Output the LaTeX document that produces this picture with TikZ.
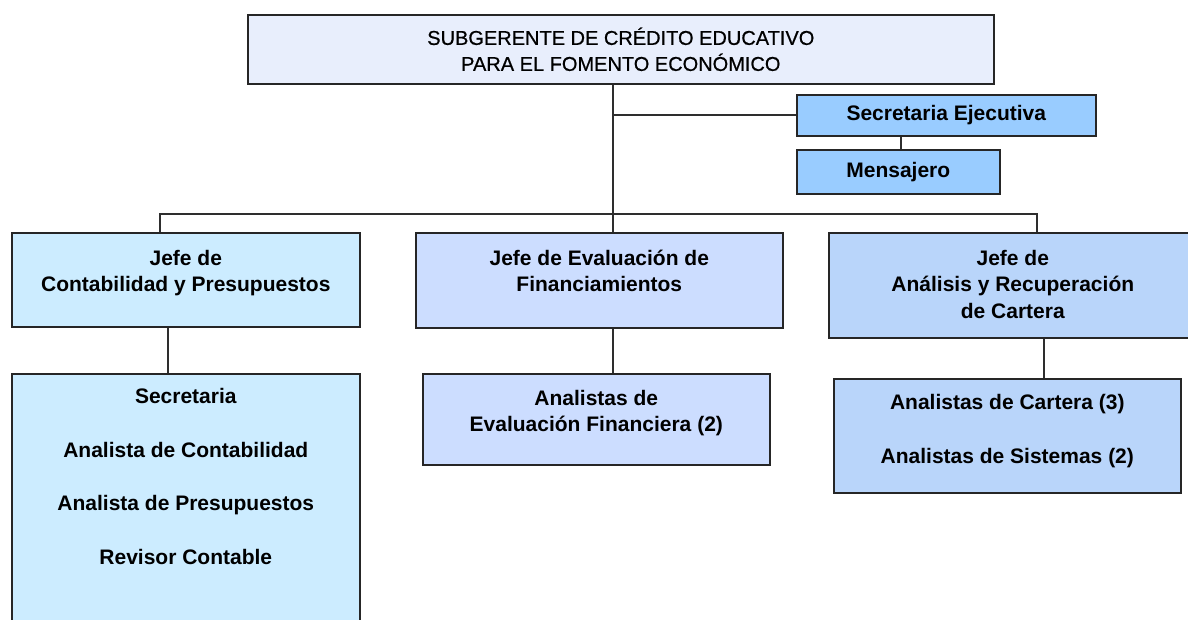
\documentclass[tikz,border=0pt]{standalone}
\usepackage{fontspec}
\setmainfont{Liberation Sans}
\newfontfamily\titlefont[FakeBold=0.6]{Liberation Sans}
\definecolor{ctitle}{HTML}{E8EEFC}
\definecolor{cse}{HTML}{99CCFF}
\definecolor{cleft}{HTML}{CCECFF}
\definecolor{cmid}{HTML}{CCDDFF}
\definecolor{cright}{HTML}{B9D5FA}
\definecolor{boxline}{HTML}{262626}
\definecolor{linec}{HTML}{2E2E2E}
\newcommand{\tbox}[3]{\begin{minipage}[t][#2][t]{#1}\centering #3\end{minipage}}
\begin{document}
\begin{tikzpicture}[x=1pt,y=-1pt,
  box/.style={draw=boxline, line width=1.6pt, inner sep=0pt, anchor=north west,
    font=\fontsize{21}{26.5}\selectfont\bfseries},
  conn/.style={draw=linec, line width=1.6pt}]
\useasboundingbox (0,0) rectangle (1188,620);
\clip (0,0) rectangle (1188,620);
% top
\node[box, fill=ctitle, minimum width=746pt, minimum height=69pt, align=center,
  font=\fontsize{20}{26}\titlefont] (sub) at (247,14)
  {SUBGERENTE DE CRÉDITO EDUCATIVO\\PARA EL FOMENTO ECONÓMICO};
\node[box, fill=cse, minimum width=299pt, minimum height=41pt] (se) at (796,94) {Secretaria Ejecutiva};
\node[box, fill=cse, minimum width=203pt, minimum height=44pt] (me) at (796,149) {Mensajero};
% jefes
\node[box, fill=cleft] (jc) at (11,232)
  {\tbox{348pt}{94pt}{\rule{0pt}{32.5pt}Jefe de\\Contabilidad y Presupuestos}};
\node[box, fill=cmid] (jf) at (415,232)
  {\tbox{367pt}{95pt}{\rule{0pt}{32.5pt}Jefe de Evaluación de\\Financiamientos}};
\node[box, fill=cright] (ja) at (828,232)
  {\tbox{368pt}{105pt}{\rule{0pt}{32.5pt}Jefe de\\Análisis y Recuperación\\de Cartera}};
% lower
\node[box, fill=cleft] (lc) at (11,373)
  {\tbox{348pt}{300pt}{\rule{0pt}{30pt}Secretaria\\[27pt]Analista de Contabilidad\\[27pt]Analista de Presupuestos\\[27pt]Revisor Contable}};
\node[box, fill=cmid] (lf) at (422,373)
  {\tbox{347pt}{91pt}{\rule{0pt}{31.5pt}Analistas de\\Evaluación Financiera (2)}};
\node[box, fill=cright] (la) at (833,378)
  {\tbox{347pt}{114pt}{\rule{0pt}{30.5pt}Analistas de Cartera (3)\\[28pt]Analistas de Sistemas (2)}};
% connector coordinates
\coordinate (bus) at (613,214);
\coordinate (busL) at (160,214);
\coordinate (busR) at (1037,214);
\coordinate (mx) at (901,0);
\coordinate (xL) at (168,0);
\coordinate (xR) at (1044,0);
% connectors
\draw[conn] (sub.south -| bus) -- (bus);
\draw[conn] (se.west) -- (se.west -| bus);
\draw[conn] (se.south -| mx) -- (me.north -| mx);
\draw[conn] (jc.north -| busL) -- (busL) -- (busR) -- (ja.north -| busR);
\draw[conn] (bus) -- (jf.north -| bus);
\draw[conn] (jc.south -| xL) -- (lc.north -| xL);
\draw[conn] (jf.south -| bus) -- (lf.north -| bus);
\draw[conn] (ja.south -| xR) -- (la.north -| xR);
\end{tikzpicture}
\end{document}
